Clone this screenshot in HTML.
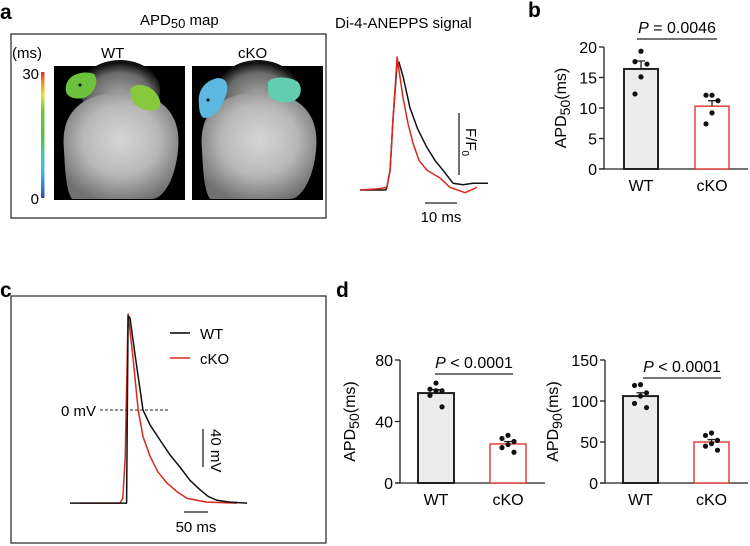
<!DOCTYPE html>
<html><head><meta charset="utf-8"><style>
html,body{margin:0;padding:0;background:#fff;}
svg{display:block;font-family:"Liberation Sans",Arial,sans-serif;}
</style></head><body>
<svg id="fig" width="750" height="546" viewBox="0 0 750 546" xmlns="http://www.w3.org/2000/svg">
<defs>
<linearGradient id="cbar" x1="0" y1="1" x2="0" y2="0">
<stop offset="0" stop-color="#2b4fb0"/><stop offset="0.2" stop-color="#3bb6e8"/><stop offset="0.35" stop-color="#4cc9a8"/><stop offset="0.5" stop-color="#5cbb44"/><stop offset="0.7" stop-color="#7cc43a"/><stop offset="0.82" stop-color="#e8e030"/><stop offset="0.92" stop-color="#f08a2a"/><stop offset="1" stop-color="#e02828"/>
</linearGradient>
<radialGradient id="heart" cx="0.5" cy="0.45" r="0.6">
<stop offset="0" stop-color="#d6d6d6"/><stop offset="0.55" stop-color="#b8b8b8"/><stop offset="1" stop-color="#707070"/>
</radialGradient>
<radialGradient id="vessel" cx="0.5" cy="0.6" r="0.55">
<stop offset="0" stop-color="#a8a8a8"/><stop offset="0.7" stop-color="#6a6a6a"/><stop offset="1" stop-color="#111"/>
</radialGradient>
</defs>

<text x="0" y="19" font-size="21" font-weight="bold">a</text>
<text x="140" y="25" font-size="15">APD<tspan font-size="13" dy="3">50</tspan><tspan dy="-3"> map</tspan></text>
<rect x="11" y="34" width="315" height="184" fill="none" stroke="#222" stroke-width="1.2"/>
<text x="12" y="58" font-size="15">(ms)</text>
<text x="101" y="58" font-size="15">WT</text>
<text x="238" y="58" font-size="15">cKO</text>
<rect x="41" y="72" width="3.5" height="126" fill="url(#cbar)"/>
<text x="39" y="79" font-size="15" text-anchor="end">30</text>
<text x="39" y="204" font-size="15" text-anchor="end">0</text>

<g>
<rect x="54" y="66" width="131" height="134" fill="#000"/>
<ellipse cx="120" cy="90" rx="40" ry="30" fill="url(#vessel)"/>
<path d="M64,150 C60,112 82,94 120,92 C160,92 182,112 178,150 C175,182 162,199 152,199 L72,199 C66,190 65,170 64,150Z" fill="url(#heart)"/>
<path d="M66,86 C68,74 84,70 94,74 C100,82 94,94 84,98 C72,100 64,96 66,86Z" fill="#6cc23c"/>
<path d="M130,90 C134,82 148,84 155,92 C162,100 162,108 156,110 C146,112 136,108 132,100Z" fill="#86c93c"/>
<circle cx="80" cy="85" r="1.5" fill="#000"/>
</g>
<g>
<rect x="192" y="66" width="131" height="134" fill="#000"/>
<ellipse cx="258" cy="90" rx="40" ry="30" fill="url(#vessel)"/>
<path d="M202,150 C198,112 220,94 258,92 C298,92 320,112 316,150 C313,182 300,199 290,199 L210,199 C204,190 203,170 202,150Z" fill="url(#heart)"/>
<path d="M199,104 C197,90 206,80 218,78 C228,78 230,88 224,100 C220,112 212,118 204,118 C200,116 199,110 199,104Z" fill="#5cb8e0"/>
<path d="M268,82 C272,76 290,76 298,82 C304,90 300,100 290,102 C278,104 270,100 268,92Z" fill="#63cdb0"/>
<circle cx="208" cy="100" r="1.5" fill="#000"/>
</g>

<text x="335" y="28" font-size="15">Di-4-ANEPPS signal</text>
<g id="tracesA"></g>
<line x1="459" y1="113" x2="459" y2="175" stroke="#222" stroke-width="1.3"/>
<text transform="translate(466,128) rotate(90)" font-size="15">F/F<tspan font-size="10" dy="4">0</tspan></text>
<line x1="425" y1="203" x2="457" y2="203" stroke="#222" stroke-width="1.3"/>
<text x="441" y="222" font-size="15" text-anchor="middle">10 ms</text>

<text x="528" y="17" font-size="21" font-weight="bold">b</text>
<g id="chartB"></g>

<text x="0" y="297" font-size="21" font-weight="bold">c</text>
<rect x="11" y="296" width="315" height="247" fill="none" stroke="#222" stroke-width="1.2"/>
<g id="tracesC"></g>
<line x1="100" y1="410" x2="170" y2="410" stroke="#222" stroke-width="1" stroke-dasharray="3,2"/>
<text x="61" y="416" font-size="15">0 mV</text>
<line x1="170" y1="333" x2="190" y2="333" stroke="#000" stroke-width="1.5"/>
<text x="200" y="339" font-size="15">WT</text>
<line x1="170" y1="358" x2="190" y2="358" stroke="#d8281e" stroke-width="1.5"/>
<text x="200" y="364" font-size="15">cKO</text>
<line x1="203" y1="429" x2="203" y2="467" stroke="#222" stroke-width="1.3"/>
<text transform="translate(211,429) rotate(90)" font-size="15">40 mV</text>
<line x1="184" y1="512" x2="208" y2="512" stroke="#222" stroke-width="1.3"/>
<text x="196" y="532" font-size="15" text-anchor="middle">50 ms</text>

<text x="336" y="297" font-size="21" font-weight="bold">d</text>
<g id="chartD1"></g>
<g id="chartD2"></g>
</svg>
<script>
// Panel a traces (time ms, normalized F)
const aBlackT=[0,8,8.4,9.4,10.3,11.6,12.2,13.5,15.6,18,20.9,23.5,25.9,29.1,32.2,35.3,40];
const aBlackV=[0,0,0.02,0.15,0.53,0.95,0.96,0.85,0.62,0.46,0.32,0.22,0.15,0.05,0.04,0.05,0.05];
const aRedT=[0,6,8.4,9.4,10.3,11.6,12.5,13.4,15,16.6,18.5,20.9,25,28.1,32.8,36.6];
const aRedV=[0,0.01,0.02,0.15,0.53,1.0,0.85,0.7,0.5,0.35,0.22,0.15,0.09,0.02,-0.02,0.02];
// Panel c traces (time ms, mV)
const cBlackT=[0,114,118,121,125,135,152,167,188,208,229,250,271,288,306,333,369];
const cBlackV=[-98,-98,-98,99,97,60,0,-16,-32,-47,-60,-74,-84,-91,-95,-97,-98];
const cRedT=[21,104,110,115,121,131,142,152,167,183,202,223,244,285,348];
const cRedV=[-98,-98,-93,-50,101,56,0,-28,-49,-65,-77,-86,-93,-97,-98];
// Panel b data
const bCats=["WT","cKO"];
const bMeans=[16.4,10.3];
const bSem=[1.3,0.9];
const bPtsWT=[19.3,17.6,17.2,15.1,12.3];
const bPtsKO=[12.1,12.1,11.2,9.2,7.4];
const bTicks=[0,5,10,15,20];
// Panel d APD50
const d1Means=[58.5,25.4];
const d1Sem=[2.2,1.6];
const d1PtsWT=[65,61,60,60,57,49.5];
const d1PtsKO=[31,29,27,25,23,20];
const d1Ticks=[0,40,80];
// Panel d APD90
const d2Means=[106,50];
const d2Sem=[4,3];
const d2PtsWT=[120,119,110,106,97,92];
const d2PtsKO=[61,58,52,48,45,40];
const d2Ticks=[0,50,100,150];

const NS="http://www.w3.org/2000/svg";
function mk(tag,attrs,parent){const e=document.createElementNS(NS,tag);for(const k in attrs)e.setAttribute(k,attrs[k]);parent.appendChild(e);return e;}

function drawTrace(g,T,V,xs,ys,color,name){
  let d="";T.forEach((t,i)=>{d+=(i?"L":"M")+xs(t).toFixed(1)+","+ys(V[i]).toFixed(1);});
  const p=mk("path",{d:d,fill:"none",stroke:color,"stroke-width":1.5,"stroke-linejoin":"round"},g);
  
  
}
const gA=document.getElementById("tracesA");
const axA=t=>360+t*3.2, ayA=v=>190-v*133;
drawTrace(gA,aBlackT,aBlackV,axA,ayA,"#111","wt-fluorescence-trace");
drawTrace(gA,aRedT,aRedV,axA,ayA,"#d8281e","cko-fluorescence-trace");
const gC=document.getElementById("tracesC");
const axC=t=>70+t*0.48, ayC=v=>410-v*0.95;
drawTrace(gC,cRedT,cRedV,axC,ayC,"#d8281e","cko-ap-trace");
drawTrace(gC,cBlackT,cBlackV,axC,ayC,"#111","wt-ap-trace");

function barChart(g,cfg){
  const y=v=>cfg.y0-(v/cfg.ymax)*(cfg.y0-cfg.ytop);
  const ax=mk("line",{x1:cfg.ax,y1:cfg.y0,x2:cfg.ax,y2:cfg.ytop,stroke:"#222","stroke-width":1.3},g);
  
  
  const xl=mk("line",{x1:cfg.ax-5,y1:cfg.y0,x2:cfg.xend,y2:cfg.y0,stroke:"#222","stroke-width":1.3},g);
  
  
  cfg.ticks.forEach(t=>{
    const tl=mk("line",{x1:cfg.ax-5,y1:y(t),x2:cfg.ax,y2:y(t),stroke:"#222","stroke-width":1.3},g);
    
    
    const tx=mk("text",{x:cfg.ax-7,y:y(t)+6,"font-size":16,"text-anchor":"end"},g);
    tx.textContent=t;
    
    
  });
  const colors=["#222","#d8281e"], fills=["#ececec","#fff"];
  const pts=[cfg.ptsWT,cfg.ptsKO];
  cfg.bx.forEach((bx,i)=>{
    const r=mk("rect",{x:bx,y:y(cfg.means[i]),width:cfg.bw,height:cfg.y0-y(cfg.means[i]),fill:fills[i],stroke:colors[i],"stroke-width":i?1.3:2},g);
    
    
    const cx=bx+cfg.bw/2;
    const e=mk("path",{d:`M${cx},${y(cfg.means[i])}V${y(cfg.means[i]+cfg.sem[i])}M${cx-4},${y(cfg.means[i]+cfg.sem[i])}H${cx+4}`,stroke:"#222","stroke-width":1.3,fill:"none"},g);
    
    
    const offs=[0,-6,6,0,-6,6];
    pts[i].forEach((v,j)=>{
      const c=mk("circle",{cx:cx+offs[j%offs.length],cy:y(v),r:2.6,fill:"#111"},g);
      
      
    });
    const lb=mk("text",{x:cx,y:cfg.y0+22,"font-size":16,"text-anchor":"middle"},g);
    lb.textContent=bCats[i];
    
    
  });
  const pl=mk("line",{x1:cfg.px1,y1:cfg.py,x2:cfg.px2,y2:cfg.py,stroke:"#222","stroke-width":1.3},g);
  
  
  const pt=mk("text",{x:(cfg.px1+cfg.px2)/2,y:cfg.py-6,"font-size":16,"text-anchor":"middle"},g);
  pt.innerHTML='<tspan font-style="italic">P</tspan>'+cfg.ptext;
  
  
  const yl=mk("text",{transform:`translate(${cfg.ylx},${(cfg.y0+cfg.ytop)/2}) rotate(-90)`,"font-size":16,"text-anchor":"middle"},g);
  yl.innerHTML='APD<tspan font-size="14" dy="4">'+cfg.sub+'</tspan><tspan dy="-4">(ms)</tspan>';
  
  
}
barChart(document.getElementById("chartB"),{ax:604,y0:169,ytop:47,ymax:20,xend:748,ticks:bTicks,bx:[624,695],bw:34,means:bMeans,sem:bSem,ptsWT:bPtsWT,ptsKO:bPtsKO,px1:637,px2:717,py:39,ptext:" = 0.0046",sub:"50",ylx:566});
barChart(document.getElementById("chartD1"),{ax:400,y0:483,ytop:360,ymax:80,xend:545,ticks:d1Ticks,bx:[418,490],bw:36,means:d1Means,sem:d1Sem,ptsWT:d1PtsWT,ptsKO:d1PtsKO,px1:435,px2:513,py:374,ptext:" &lt; 0.0001",sub:"50",ylx:355});
barChart(document.getElementById("chartD2"),{ax:605,y0:483,ytop:360,ymax:150,xend:748,ticks:d2Ticks,bx:[623,694],bw:35,means:d2Means,sem:d2Sem,ptsWT:d2PtsWT,ptsKO:d2PtsKO,px1:643,px2:721,py:378,ptext:" &lt; 0.0001",sub:"90",ylx:558});
</script>
</body></html>
